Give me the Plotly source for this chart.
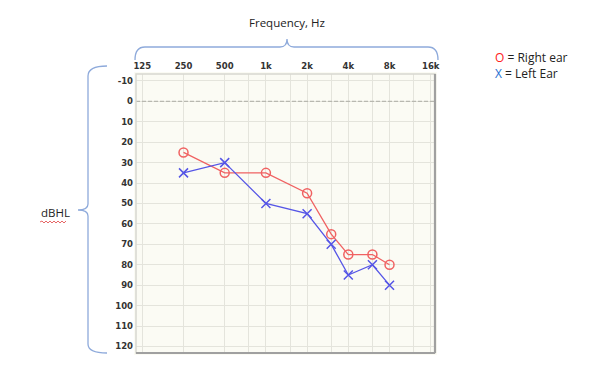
import plotly.graph_objects as go

freqs = [250, 500, 1000, 2000, 3000, 4000, 6000, 8000]
right_ear = [25, 35, 35, 45, 65, 75, 75, 80]
left_ear = [35, 30, 50, 55, 70, 85, 80, 90]

x_tickvals = [125, 250, 500, 750, 1000, 1500, 2000, 3000, 4000, 6000, 8000, 12000, 16000]
x_ticktext = ["125", "250", "500", "", "1k", "", "2k", "", "4k", "", "8k", "", "16k"]
y_tickvals = list(range(-10, 130, 10))
y_ticktext = [str(v) for v in y_tickvals]

OFF = 8  # default body margin of the page
W, H = 598 - 2 * OFF, 367 - 2 * OFF
L, R, T, B = 136 - OFF, 435 - OFF, 74 - OFF, 353 - OFF


def px(x):
    return (x - OFF - L) / (R - L)


def py(y):
    return (B - (y - OFF)) / (B - T)


fig = go.Figure()
fig.add_trace(go.Scatter(
    x=freqs, y=right_ear, mode="lines+markers", name="Right ear",
    line=dict(color="#f06262", width=1.3),
    marker=dict(symbol="circle-open", size=9, color="#f06262", line=dict(width=1.5)),
))
fig.add_trace(go.Scatter(
    x=freqs, y=left_ear, mode="lines+markers", name="Left Ear",
    line=dict(color="#5555e6", width=1.3),
    marker=dict(symbol="x-thin-open", size=9, color="#5555e6", line=dict(width=1.5, color="#5555e6")),
))

grid = "#e4e4dc"
tickfont = dict(family="DejaVu Sans", size=8.5, color="#333333", weight="bold")
fig.update_xaxes(
    type="log", side="top", range=[2.0508, 4.2355],
    tickvals=x_tickvals, ticktext=x_ticktext,
    showgrid=True, gridcolor=grid, gridwidth=1.2,
    ticks="", zeroline=False, showline=False,
    tickfont=tickfont, fixedrange=True,
)
fig.update_yaxes(
    range=[123.2, -13.4], tickvals=y_tickvals, ticktext=y_ticktext,
    showgrid=True, gridcolor=grid, gridwidth=1.2,
    ticks="", zeroline=False, showline=False,
    tickfont=tickfont, fixedrange=True,
)

brace = "#8eaadb"
shapes = [
    dict(type="line", xref="paper", yref="y", x0=0, x1=1, y0=0, y1=0,
         line=dict(color="#b8b8b0", width=1.3, dash="4px,2px"), layer="above"),
    dict(type="rect", xref="paper", yref="paper", x0=0, x1=1, y0=0, y1=1,
         line=dict(color="#d8d8d0", width=1.5)),
    dict(type="line", xref="paper", yref="paper", x0=1, x1=1, y0=0, y1=1,
         line=dict(color="#a0a0a0", width=2.2)),
    dict(type="line", xref="paper", yref="paper", x0=0, x1=1, y0=0, y1=0,
         line=dict(color="#a0a0a0", width=2.2)),
]

path = "M {},{} Q {},{} {},{} L {},{} Q {},{} {},{} Q {},{} {},{} L {},{} Q {},{} {},{}".format(
    px(135), py(60), px(135), py(47), px(145), py(47),
    px(280), py(47), px(287), py(47), px(287), py(39),
    px(287), py(47), px(294), py(47), px(428), py(47),
    px(438), py(47), px(438), py(60))
shapes.append(dict(type="path", xref="paper", yref="paper", path=path,
                   line=dict(color=brace, width=1.3)))

path2 = "M {},{} Q {},{} {},{} L {},{} Q {},{} {},{} Q {},{} {},{} L {},{} Q {},{} {},{}".format(
    px(107), py(66), px(88), py(66), px(88), py(76),
    px(88), py(204), px(88), py(210), px(78), py(210),
    px(88), py(210), px(88), py(216), px(88), py(344),
    px(88), py(353), px(107), py(353))
shapes.append(dict(type="path", xref="paper", yref="paper", path=path2,
                   line=dict(color=brace, width=1.3)))

sq = "M {},{}".format(px(40), py(222))
xx = 40
up = True
while xx < 66:
    xx += 2
    sq += " L {},{}".format(px(xx), py(221 if up else 223))
    up = not up
shapes.append(dict(type="path", xref="paper", yref="paper", path=sq,
                   line=dict(color="#e04040", width=0.8)))

font = dict(family="Open Sans", size=11.5, color="#222222")
lfont = dict(family="Open Sans", size=12, color="#222222")
annotations = [
    dict(text="Frequency, Hz", xref="paper", yref="paper", x=px(287), y=py(23),
         showarrow=False, font=font, xanchor="center", yanchor="middle"),
    dict(text="dBHL", xref="paper", yref="paper", x=px(39), y=py(212),
         showarrow=False, font=font, xanchor="left", yanchor="middle"),
    dict(text="<span style='color:#ff2020'>O</span> = Right ear", xref="paper", yref="paper",
         x=px(493), y=py(58), showarrow=False, font=lfont,
         xanchor="left", yanchor="middle"),
    dict(text="<span style='color:#1f6fd0'>X</span> = Left Ear", xref="paper", yref="paper",
         x=px(493), y=py(73), showarrow=False, font=lfont,
         xanchor="left", yanchor="middle"),
]

fig.update_layout(
    width=W, height=H,
    margin=dict(l=L, r=W - R, t=T, b=H - B, pad=2),
    paper_bgcolor="white", plot_bgcolor="#fbfbf4",
    showlegend=False, shapes=shapes, annotations=annotations,
)

fig.write_html("out.html", config={"displayModeBar": False})
